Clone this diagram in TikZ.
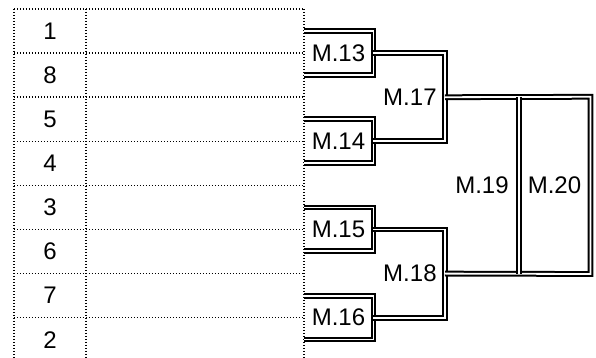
\documentclass[tikz,border=0pt]{standalone}
\usepackage{fontspec}
\setmainfont{Liberation Sans}
\usetikzlibrary{positioning,calc}
\tikzset{
  grid/.style={line width=0.7pt, dash pattern=on 0.7pt off 0.8pt},
  wire/.style={double, line width=1pt, double distance=0.9pt},
  seed/.style={inner sep=0pt, font=\fontsize{12}{14}\selectfont},
  mlabel/.style={inner sep=0pt, font=\fontsize{12}{14}\selectfont},
  mbox/.style={mlabel, minimum width=34.5pt, minimum height=21.5pt},
}

\begin{document}
\begin{tikzpicture}[x=0.5pt,y=-0.5pt]
\useasboundingbox (0,0) rectangle (596,358);

% tableau
\foreach \k in {0,...,7}
  \draw[grid] (14,{9+44.1*\k}) -- (304,{9+44.1*\k});
\foreach \x in {14,86,304}
  \draw[grid] (\x,9) -- (\x,358);

% tetes de serie
\foreach \s [count=\i] in {1,8,5,4,3,6,7,2}
  \node[seed] (s\i) at (50,{9+44.1*(\i-0.5)}) {\s};

% premier tour
\node[mbox] (m13) at (338.5,53.1) {M.13};
\node[mbox] (m14) at (338.5,141.3) {M.14};
\node[mbox] (m15) at (338.5,229.5) {M.15};
\node[mbox] (m16) at (338.5,317.7) {M.16};
\foreach \m in {m13,m14,m15,m16}
  \draw[wire] (\m.north west) -- (\m.north east) -- (\m.south east) -- (\m.south west);

% demi-finales
\coordinate (j17) at (445,97.2);
\coordinate (j18) at (445,273.6);
\node[mlabel, left=4pt of j17] (m17) {M.17};
\node[mlabel, left=4pt of j18] (m18) {M.18};
\draw[wire] (m13.east) -| (j17) |- (m14.east);
\draw[wire] (m15.east) -| (j18) |- (m16.east);

% finale
\node[mlabel] (m19) at (482,185.4) {M.19};
\node[mbox, minimum width=35.5pt, minimum height=88.2pt] (m20) at (554.5,185.4) {M.20};
\draw[wire] (j17) -- (m20.north east) -- (m20.south east) -- (j18);
\draw[wire] (m20.north west) -- (m20.south west);

\end{tikzpicture}
\end{document}
